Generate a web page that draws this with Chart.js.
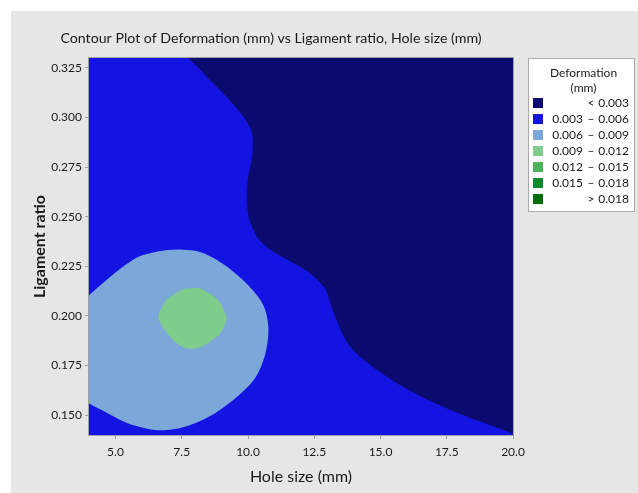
<!DOCTYPE html>
<html>
<head>
<meta charset="utf-8">
<script src="https://cdn.jsdelivr.net/npm/chart.js@4.4.1/dist/chart.umd.min.js"></script>
<style>
    html, body { margin: 0; padding: 0; background: #fff; }
    #wrap { position: absolute; left: 11px; top: 11px; width: 627px; height: 482px; background: #e6e6e6; }
</style>
</head>
<body>
<div id="wrap"><canvas id="contourChart" width="627" height="482"></canvas></div>
<script>
/** --------------------DATA-------------------- */

const holeSizeRange = [4, 20];
const ligamentRange = [0.14, 0.33];
const holeSizeTicks = [5.0, 7.5, 10.0, 12.5, 15.0, 17.5, 20.0];
const ligamentTicks = [0.150, 0.175, 0.200, 0.225, 0.250, 0.275, 0.300, 0.325];

// legend bands (Deformation, mm)
const bandLow = ['', '0.003', '0.006', '0.009', '0.012', '0.015', ''];
const bandSign = ['<', '–', '–', '–', '–', '–', '>'];
const bandHigh = ['0.003', '0.006', '0.009', '0.012', '0.015', '0.018', '0.018'];
const bandColors = ['#0b0a6e', '#1414e2', '#7ca7d9', '#80cc8d', '#4cb35b', '#0b8a2c', '#006b0c'];

// whole plot is the 0.003 - 0.006 band
const baseHole = [3, 21, 21, 3, 3];
const baseLig = [0.13, 0.13, 0.34, 0.34, 0.13];

// < 0.003 region (upper right)
const navyHole = [7.3, 7.75, 8.2, 8.63, 9.15, 9.64, 9.95, 10.14, 10.18, 10.14, 10.02, 9.95, 9.98, 10.08,
    10.39, 10.77, 11.4, 12.28, 12.9, 13.22, 13.53, 13.91, 14.79, 16.18, 17.81, 20, 21, 21, 7.3];
const navyLig = [0.336, 0.33, 0.324, 0.318, 0.311, 0.3037, 0.298, 0.2928, 0.286, 0.2793, 0.271, 0.2625, 0.254, 0.2474,
    0.239, 0.234, 0.229, 0.2222, 0.2138, 0.2021, 0.192, 0.1836, 0.1735, 0.1618, 0.1517, 0.1408, 0.136, 0.336, 0.336];

// 0.006 - 0.009 region (lower left)
const lightBlueHole = [3.5, 4, 5.11, 5.87, 6.6, 7.37, 8.25, 9.13, 10.01, 10.58, 10.77, 10.64, 10.26, 9.51,
    8.63, 7.62, 6.62, 5.48, 4.6, 4, 3.5, 3.5];
const lightBlueLig = [0.205, 0.2105, 0.223, 0.2298, 0.2325, 0.2335, 0.232, 0.2256, 0.2155, 0.2054, 0.1937, 0.1802, 0.1685, 0.1584,
    0.15, 0.1442, 0.1424, 0.1458, 0.1517, 0.1559, 0.1594, 0.205];

// 0.009 - 0.012 region (small island)
const greenHole = [7.62, 8.19, 8.88, 9.19, 8.94, 8.25, 7.69, 7.18, 6.62, 6.87, 7.25, 7.62];
const greenLig = [0.2138, 0.2138, 0.2079, 0.1987, 0.1912, 0.1845, 0.1836, 0.1878, 0.1987, 0.2071, 0.2113, 0.2138];

/** --------------------END DATA-------------------- */

const fontFamily = "Lato, 'Open Sans', sans-serif";
const textColor = '#1a1a1a';
const axisColor = '#a0a0a0';

function toPoints(xs, ys) {
    return xs.map((x, i) => ({x: x, y: ys[i]}));
}

function region(label, xs, ys, color, order, tension) {
    return {
        label: label,
        data: toPoints(xs, ys),
        showLine: true,
        fill: 'shape',
        backgroundColor: color,
        borderWidth: 0,
        borderColor: color,
        pointRadius: 0,
        tension: tension,
        order: order,
    };
}

const framePlugin = {
    id: 'frame',
    afterDatasetsDraw(chart) {
        const {ctx, chartArea} = chart;
        ctx.save();
        ctx.strokeStyle = axisColor;
        ctx.lineWidth = 1;
        ctx.strokeRect(Math.round(chartArea.left) - 0.5, Math.round(chartArea.top) - 0.5,
            Math.round(chartArea.right - chartArea.left) + 1, Math.round(chartArea.bottom - chartArea.top) + 1);
        ctx.restore();
    }
};

const bandLegendPlugin = {
    id: 'bandLegend',
    afterDraw(chart) {
        const {ctx, chartArea} = chart;
        const left = chartArea.right + 15;
        const top = chartArea.top;
        const width = 107;
        const height = 154;

        ctx.save();
        ctx.fillStyle = '#fff';
        ctx.fillRect(left, top, width, height);
        ctx.strokeStyle = '#aaa';
        ctx.lineWidth = 1;
        ctx.strokeRect(left + 0.5, top + 0.5, width - 1, height - 1);

        ctx.fillStyle = textColor;
        ctx.font = `12px ${fontFamily}`;
        ctx.textAlign = 'center';
        ctx.textBaseline = 'middle';
        ctx.fillText('Deformation', left + width / 2 + 2, top + 15);
        ctx.fillText('(mm)', left + width / 2 + 2, top + 30);

        for (let i = 0; i < bandColors.length; i++) {
            const rowY = top + 45 + i * 16;
            ctx.fillStyle = bandColors[i];
            ctx.fillRect(left + 5, rowY - 5, 10, 10);

            ctx.fillStyle = textColor;
            ctx.textAlign = 'right';
            ctx.fillText(bandLow[i], left + 55, rowY);
            ctx.textAlign = 'center';
            ctx.fillText(bandSign[i], left + 63, rowY);
            ctx.textAlign = 'right';
            ctx.fillText(bandHigh[i], left + 101, rowY);
        }
        ctx.restore();
    }
};

const ctx = document.getElementById('contourChart').getContext('2d');
const contourChart = new Chart(ctx, {
    type: 'scatter',
    data: {
        datasets: [
            region('0.009 - 0.012', greenHole, greenLig, bandColors[3], 1, 0.25),
            region('0.006 - 0.009', lightBlueHole, lightBlueLig, bandColors[2], 2, 0.3),
            region('< 0.003', navyHole, navyLig, bandColors[0], 3, 0.3),
            region('0.003 - 0.006', baseHole, baseLig, bandColors[1], 4, 0),
        ]
    },
    options: {
        responsive: false,
        animation: false,
        layout: {
            padding: {left: 18, right: 125, top: 0, bottom: 0}
        },
        plugins: {
            legend: {display: false},
            tooltip: {enabled: false},
            title: {
                display: true,
                text: 'Contour Plot of Deformation (mm) vs Ligament ratio, Hole size (mm)',
                color: textColor,
                font: {family: fontFamily, size: 14.2, weight: 'normal'},
                padding: {top: 18.5, bottom: 11.5}
            }
        },
        scales: {
            x: {
                type: 'linear',
                min: holeSizeRange[0],
                max: holeSizeRange[1],
                afterBuildTicks: function (scale) {
                    scale.ticks = holeSizeTicks.map(v => ({value: v}));
                },
                afterFit: function (scale) {
                    scale.height = 58;
                },
                ticks: {
                    callback: v => Number(v).toFixed(1),
                    color: textColor,
                    font: {family: fontFamily, size: 12},
                    padding: 6,
                    maxRotation: 0,
                    autoSkip: false
                },
                grid: {drawOnChartArea: false, drawTicks: true, tickLength: 4, color: axisColor},
                border: {display: true, color: axisColor},
                title: {
                    display: true,
                    text: 'Hole size (mm)',
                    color: textColor,
                    font: {family: fontFamily, size: 16},
                    padding: {top: 0, bottom: 7}
                }
            },
            y: {
                type: 'linear',
                min: ligamentRange[0],
                max: ligamentRange[1],
                afterBuildTicks: function (scale) {
                    scale.ticks = ligamentTicks.map(v => ({value: v}));
                },
                afterFit: function (scale) {
                    scale.width = 60;
                },
                ticks: {
                    callback: v => Number(v).toFixed(3),
                    color: textColor,
                    font: {family: fontFamily, size: 12},
                    padding: 3,
                    autoSkip: false
                },
                grid: {drawOnChartArea: false, drawTicks: true, tickLength: 4, color: axisColor},
                border: {display: true, color: axisColor},
                title: {
                    display: true,
                    text: 'Ligament ratio',
                    color: textColor,
                    font: {family: fontFamily, size: 16, weight: 'bold'},
                    padding: {top: 1, bottom: 0}
                }
            }
        }
    },
    plugins: [framePlugin, bandLegendPlugin]
});
</script>
</body>
</html>
